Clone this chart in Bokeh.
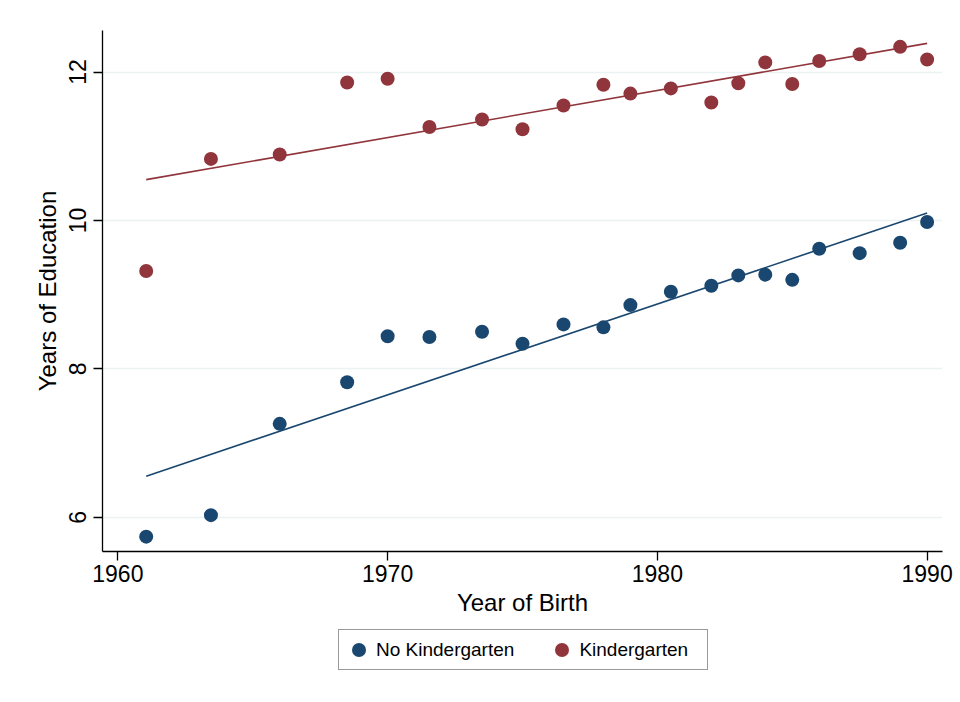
import numpy as np
from bokeh.plotting import figure
from bokeh.layouts import column
from bokeh.models import Range1d, Legend, LegendItem, FixedTicker
from bokeh.embed import file_html
from bokeh.resources import INLINE

# ---- data ----
years = [1961.05, 1963.45, 1966.0, 1968.5, 1970.0, 1971.55, 1973.5, 1975.0, 1976.52,
         1978.0, 1979.0, 1980.5, 1982.0, 1983.0, 1984.0, 1985.0, 1986.0, 1987.5, 1989.0, 1990.0]
no_kinder = [5.74, 6.03, 7.26, 7.82, 8.44, 8.43, 8.50, 8.34, 8.60,
             8.56, 8.86, 9.04, 9.12, 9.26, 9.27, 9.20, 9.62, 9.56, 9.70, 9.98]
kinder = [9.32, 10.83, 10.89, 11.86, 11.91, 11.26, 11.36, 11.23, 11.55,
          11.83, 11.71, 11.78, 11.59, 11.85, 12.13, 11.84, 12.15, 12.24, 12.34, 12.17]
series_names = ["No Kindergarten", "Kindergarten"]
x_ticks = [1960, 1970, 1980, 1990]
y_ticks = [6, 8, 10, 12]

BLUE = "#1a476f"
RED = "#90353b"
FONT = "Liberation Sans"

p = figure(frame_width=840, frame_height=521, output_backend="svg", toolbar_location=None,
           x_range=Range1d(1959.43, 1990.57), y_range=Range1d(5.54, 12.56),
           min_border_left=102, min_border_right=18, min_border_top=30, min_border_bottom=75)
p.outline_line_color = None
p.background_fill_color = "white"
p.border_fill_color = "white"

# fitted lines (OLS on the plotted points)
xs = np.array(years)
fx = np.array([xs.min(), xs.max()])
b_nk = np.polyfit(xs, np.array(no_kinder), 1)
b_k = np.polyfit(xs, np.array(kinder), 1)
p.line(fx, np.polyval(b_nk, fx), line_color=BLUE, line_width=1.6)
p.line(fx, np.polyval(b_k, fx), line_color=RED, line_width=1.6)

p.scatter(years, no_kinder, size=14, fill_color=BLUE, line_color=None, marker="circle")
p.scatter(years, kinder, size=14, fill_color=RED, line_color=None, marker="circle")

# grid
p.xgrid.grid_line_color = None
p.ygrid.grid_line_color = "#eaf2f3"
p.ygrid.grid_line_width = 1.5

# axes
p.xaxis.ticker = FixedTicker(ticks=x_ticks)
p.yaxis.ticker = FixedTicker(ticks=y_ticks)
for ax in (p.xaxis[0], p.yaxis[0]):
    ax.axis_line_color = "black"
    ax.axis_line_width = 1.3
    ax.major_tick_line_color = "black"
    ax.major_tick_line_width = 1.3
    ax.major_tick_in = 0
    ax.major_tick_out = 9
    ax.minor_tick_line_color = None
    ax.major_label_text_font = FONT
    ax.major_label_text_font_size = "23px"
    ax.major_label_text_color = "black"
    ax.axis_label_text_font = FONT
    ax.axis_label_text_font_size = "24px"
    ax.axis_label_text_font_style = "normal"
    ax.axis_label_text_color = "black"

p.xaxis.axis_label = "Year of Birth"
p.yaxis.axis_label = "Years of Education"
p.yaxis.major_label_orientation = "parallel"
p.xaxis.major_label_standoff = 4
p.xaxis.axis_label_standoff = 4
p.yaxis.major_label_standoff = 7
p.yaxis.axis_label_standoff = 6

# ---- legend strip below the plot ----
q = figure(width=960, height=76, output_backend="svg", toolbar_location=None,
           x_axis_type=None, y_axis_type=None, x_range=Range1d(100, 101), y_range=Range1d(100, 101),
           min_border=0)
q.outline_line_color = None
q.grid.visible = False
q.border_fill_color = "white"
q.background_fill_color = "white"
# legend proxies (first points of each series; they lie outside this strip's ranges)
l_nk = q.scatter(x=[years[0]], y=[no_kinder[0]], size=14, fill_color=BLUE, line_color=None, marker="circle")
l_k = q.scatter(x=[years[0]], y=[kinder[0]], size=14, fill_color=RED, line_color=None, marker="circle")

legend = Legend(items=[LegendItem(label=series_names[0], renderers=[l_nk]),
                       LegendItem(label=series_names[1], renderers=[l_k])],
                orientation="horizontal", location=(236, 32))
legend.label_text_font = FONT
legend.label_text_font_size = "19px"
legend.label_text_color = "black"
legend.border_line_color = "#333333"
legend.border_line_width = 1.2
legend.background_fill_color = "white"
legend.background_fill_alpha = 1
legend.glyph_width = 35
legend.glyph_height = 35
legend.padding = 2
legend.spacing = 30
legend.label_standoff = 0
legend.label_width = 126
legend.margin = 0
q.add_layout(legend, "center")

open("out.html", "w").write(file_html(column(p, q, spacing=0), INLINE))
